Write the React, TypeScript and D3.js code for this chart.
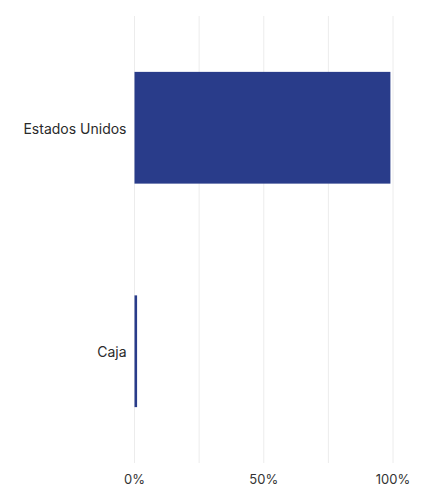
import React from "react";
import * as d3 from "d3";

const categories = ["Estados Unidos", "Caja"];
const values = [99, 1];
const gridTicks = [0, 25, 50, 75, 100];
const labelTicks = [0, 50, 100];

const W = 442;
const H = 486;
const margin = { left: 134.5, right: 49, top: 16, bottom: 23 };

export default function App() {
  const x = d3.scaleLinear().domain([0, 100]).range([margin.left, W - margin.right]);
  const y = d3
    .scaleBand<string>()
    .domain(categories)
    .range([margin.top, H - margin.bottom])
    .paddingInner(0.5)
    .paddingOuter(0.25);
  const font = "Inter, Roboto, 'Noto Sans', sans-serif";
  return (
    <svg
      width={W}
      height={H}
      style={{ position: "absolute", left: 0, top: 0, background: "#fff" }}
      fontFamily={font}
    >
      {gridTicks.map((t) => (
        <line
          key={t}
          x1={x(t)}
          x2={x(t)}
          y1={margin.top}
          y2={H - margin.bottom}
          stroke="#ececec"
          strokeWidth={1}
        />
      ))}
      {categories.map((c, i) => (
        <g key={c}>
          <rect
            x={x(0)}
            y={y(c)!}
            width={x(values[i]) - x(0)}
            height={y.bandwidth()}
            fill="#293c8a"
          />
          <text
            x={x(0) - 8}
            y={y(c)! + y.bandwidth() / 2 + 6}
            textAnchor="end"
            fontSize={14}
            fill="#2a2a2a"
          >
            {c}
          </text>
        </g>
      ))}
      {labelTicks.map((t) => (
        <text
          key={t}
          x={x(t)}
          y={484}
          textAnchor="middle"
          fontSize={13}
          fill="#333"
        >
          {t}%
        </text>
      ))}
    </svg>
  );
}
